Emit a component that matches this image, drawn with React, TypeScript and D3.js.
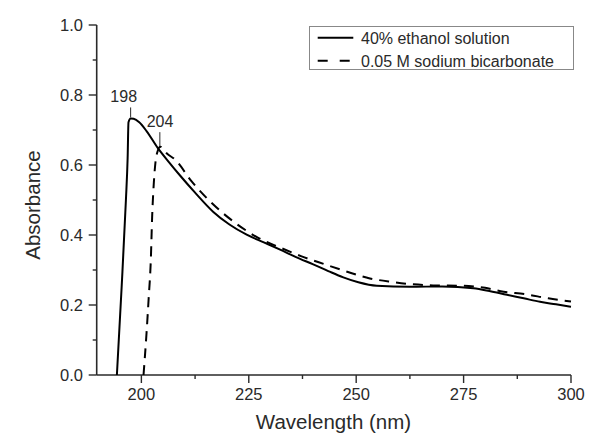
import React from "react";
import * as d3 from "d3";

const ethanolWl = [194.3, 195.4, 196.4, 196.8, 197.0, 197.5, 198.2, 199.5, 201.2, 203.8, 206.5, 209.0, 212.5, 216.75, 220.5, 224.5, 228.5, 232.3, 236.0, 240.0, 243.5, 247.0, 250.5, 254.8, 262.5, 270.0, 277.3, 281.0, 285.1, 289.0, 292.8, 296.5, 300.0];
const ethanolAbs = [0.0, 0.25, 0.5, 0.62, 0.722, 0.733, 0.732, 0.722, 0.697, 0.649, 0.607, 0.570, 0.521, 0.466, 0.43, 0.401, 0.379, 0.358, 0.337, 0.316, 0.297, 0.279, 0.265, 0.255, 0.252, 0.253, 0.248, 0.240, 0.229, 0.219, 0.209, 0.202, 0.195];

const bicarbWl = [200.5, 201.2, 201.7, 202.2, 202.5, 202.9, 203.3, 203.8, 204.4, 206.0, 207.8, 211.7, 216.75, 221.8, 226.9, 232.3, 237.3, 242.8, 247.9, 253.2, 258.3, 263.3, 267.9, 275.0, 280.0, 284.3, 289.3, 294.7, 300.0];
const bicarbAbs = [0.0, 0.12, 0.22, 0.33, 0.45, 0.55, 0.61, 0.64, 0.652, 0.632, 0.616, 0.553, 0.487, 0.435, 0.394, 0.364, 0.339, 0.316, 0.295, 0.276, 0.266, 0.259, 0.256, 0.255, 0.249, 0.238, 0.231, 0.219, 0.21];

const xTicks = [200, 225, 250, 275, 300];
const xMinor = [212.5, 237.5, 262.5, 287.5];
const yTicks = [0.0, 0.2, 0.4, 0.6, 0.8, 1.0];
const yMinor = [0.1, 0.3, 0.5, 0.7, 0.9];
const seriesNames = ["40% ethanol solution", "0.05 M sodium bicarbonate"];
const peakLabels = [
  { wl: 197.5, abs: 0.733, text: "198", lx: 123.7 },
  { wl: 204.3, abs: 0.651, text: "204", lx: 160 },
];

export default function App() {
  const W = 589, H = 440;
  const x = d3.scaleLinear().domain([189.6, 300]).range([96.7, 571]);
  const y = d3.scaleLinear().domain([0, 1]).range([375, 25]);
  const ink = "#2a2a2a";
  const font = "'Liberation Sans', Arial, sans-serif";

  const line = d3
    .line<[number, number]>()
    .x((d) => x(d[0]))
    .y((d) => y(d[1]))
    .curve(d3.curveMonotoneX);

  const ethanol = ethanolWl.map((w, i) => [w, ethanolAbs[i]] as [number, number]);
  const bicarb = bicarbWl.map((w, i) => [w, bicarbAbs[i]] as [number, number]);

  return (
    <svg width={W} height={H} style={{ position: "absolute", left: 0, top: 0, background: "#fff" }} fontFamily={font}>
      <rect width={W} height={H} fill="#fff" />
      {/* axes */}
      <line x1={x.range()[0]} x2={x.range()[1]} y1={375} y2={375} stroke={ink} strokeWidth={1.6} />
      <line x1={96.7} x2={96.7} y1={25} y2={375} stroke={ink} strokeWidth={1.6} />
      {xTicks.map((t) => (
        <g key={"xt" + t}>
          <line x1={x(t)} x2={x(t)} y1={375} y2={383} stroke={ink} strokeWidth={1.4} />
          <text x={x(t)} y={400} textAnchor="middle" fontSize={16.5} fill={ink}>{t}</text>
        </g>
      ))}
      {xMinor.map((t) => (
        <line key={"xm" + t} x1={x(t)} x2={x(t)} y1={375} y2={379} stroke={ink} strokeWidth={1.4} />
      ))}
      {yTicks.map((t) => (
        <g key={"yt" + t}>
          <line x1={88.7} x2={96.7} y1={y(t)} y2={y(t)} stroke={ink} strokeWidth={1.4} />
          <text x={83} y={y(t) + 6} textAnchor="end" fontSize={16.5} fill={ink}>{t.toFixed(1)}</text>
        </g>
      ))}
      {yMinor.map((t) => (
        <line key={"ym" + t} x1={92.7} x2={96.7} y1={y(t)} y2={y(t)} stroke={ink} strokeWidth={1.4} />
      ))}
      <text x={333.5} y={429} textAnchor="middle" fontSize={20.5} fill={ink}>Wavelength (nm)</text>
      <text transform="translate(40,205) rotate(-90)" textAnchor="middle" fontSize={20.5} fill={ink}>Absorbance</text>

      {/* series */}
      <path d={line(ethanol) || ""} fill="none" stroke="#000" strokeWidth={2} />
      <path d={line(bicarb) || ""} fill="none" stroke="#000" strokeWidth={2} strokeDasharray="10,7" />

      {/* peak labels */}
      {peakLabels.map((p) => (
        <g key={p.text}>
          <line x1={x(p.wl)} x2={x(p.wl)} y1={y(p.abs) - (p.text === "198" ? 11 : 15)} y2={y(p.abs) - 1} stroke={ink} strokeWidth={1} />
          <text x={p.lx} y={p.text === "198" ? 102 : 127} textAnchor="middle" fontSize={16} fill={ink}>{p.text}</text>
        </g>
      ))}

      {/* legend */}
      <rect x={309.5} y={26.5} width={264} height={43} fill="#fff" stroke="#888" strokeWidth={1} />
      <line x1={317.7} x2={353.3} y1={37.7} y2={37.7} stroke="#000" strokeWidth={2} />
      <text x={361} y={43.5} fontSize={16} fill={ink}>{seriesNames[0]}</text>
      <line x1={317.7} x2={353.3} y1={60.7} y2={60.7} stroke="#000" strokeWidth={2} strokeDasharray="10,12" />
      <text x={361} y={66.5} fontSize={16} fill={ink}>{seriesNames[1]}</text>
    </svg>
  );
}
